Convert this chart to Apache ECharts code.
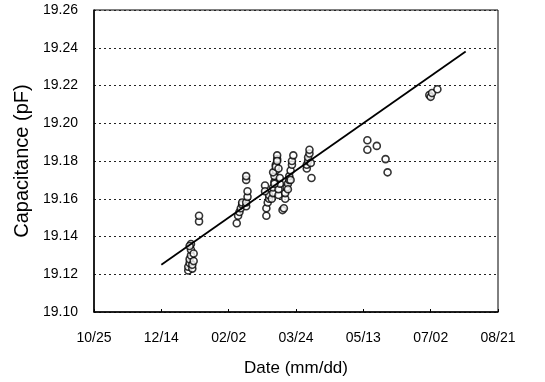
<!DOCTYPE html>
<html>
<head>
<meta charset="utf-8">
<script src="https://cdn.jsdelivr.net/npm/echarts@6/dist/echarts.min.js"></script>
<style>
  html, body { margin: 0; padding: 0; background: #fff; }
  #chart { width: 545px; height: 382px; }
</style>
</head>
<body>
<div id="chart"></div>
<script>
// x values are days counted from 10/25
const dateTicks = ['10/25', '12/14', '02/02', '03/24', '05/13', '07/02', '08/21']

const measDays = [
  70, 70, 71, 71, 72, 72, 72, 73, 73, 74, 74, 71,
  78, 78,
  106, 107, 108, 109, 110, 110, 113, 113, 114, 114, 113, 113,
  127, 128, 128, 129, 130, 130, 127,
  132, 133, 133, 134, 134, 135, 135, 136, 136, 137, 137, 138, 138, 133, 135, 136, 134, 137,
  140, 141, 142, 142, 143, 144, 145, 145, 146, 147, 147, 148, 144, 146,
  158, 158, 159, 159, 160, 160, 161, 161.5,
  203, 203, 210, 216.5, 218,
  249, 250, 251, 255
]
const measValues = [
  19.122, 19.124, 19.126, 19.128, 19.130, 19.133, 19.136, 19.123, 19.125, 19.127, 19.131, 19.135,
  19.148, 19.151,
  19.147, 19.151, 19.153, 19.155, 19.157, 19.158, 19.156, 19.158, 19.161, 19.164, 19.170, 19.172,
  19.167, 19.151, 19.155, 19.158, 19.160, 19.162, 19.164,
  19.160, 19.163, 19.166, 19.169, 19.172, 19.175, 19.178, 19.181, 19.183, 19.162, 19.165, 19.168, 19.171, 19.174, 19.177, 19.180, 19.168, 19.176,
  19.154, 19.155, 19.160, 19.163, 19.166, 19.168, 19.170, 19.172, 19.175, 19.178, 19.180, 19.183, 19.165, 19.170,
  19.176, 19.178, 19.180, 19.182, 19.184, 19.186, 19.179, 19.171,
  19.186, 19.191, 19.188, 19.181, 19.174,
  19.215, 19.214, 19.216, 19.218
]

const fitDays = [50, 276]
const fitValues = [19.125, 19.238]

const chart = echarts.init(document.getElementById('chart'))

const font = '"Liberation Sans", Arial, sans-serif'

const option = {
  animation: false,
  grid: {
    left: 94,
    right: 47,
    top: 10,
    bottom: 69,
    show: true,
    borderColor: '#000',
    borderWidth: 1,
  },
  xAxis: {
    type: 'value',
    min: 0,
    max: 300,
    interval: 50,
    name: 'Date (mm/dd)',
    nameLocation: 'middle',
    nameGap: 48,
    nameTextStyle: { fontFamily: font, fontSize: 17, color: '#000' },
    axisLine: { lineStyle: { color: '#000', width: 1.5 } },
    axisTick: { inside: true, length: 3, lineStyle: { color: '#000' } },
    axisLabel: {
      fontFamily: font,
      fontSize: 14,
      color: '#000',
      margin: 19,
      formatter: (v) => dateTicks[Math.round(v / 50)] || '',
    },
    splitLine: { show: false },
  },
  yAxis: {
    type: 'value',
    min: 19.10,
    max: 19.26,
    interval: 0.02,
    name: 'Capacitance (pF)',
    nameLocation: 'middle',
    nameGap: 62,
    nameTextStyle: { fontFamily: font, fontSize: 20, color: '#000', padding: [0, 0, 0, 0] },
    axisLine: { show: true, lineStyle: { color: '#000', width: 1.5 } },
    axisTick: { show: false },
    axisLabel: {
      fontFamily: font,
      fontSize: 14,
      color: '#000',
      margin: 16,
      formatter: (v) => v.toFixed(2),
    },
    splitLine: {
      show: true,
      lineStyle: { color: '#222', type: [2, 3], width: 1 },
    },
  },
  series: [
    {
      name: 'measured',
      type: 'scatter',
      symbol: 'circle',
      symbolSize: 7,
      itemStyle: { color: '#fff', borderColor: '#000', borderWidth: 1.6 },
      data: measDays.map((d, i) => [d, measValues[i]]),
      z: 3,
    },
    {
      name: 'fit',
      type: 'line',
      symbol: 'none',
      lineStyle: { color: '#000', width: 1.8 },
      data: fitDays.map((d, i) => [d, fitValues[i]]),
      z: 4,
    },
  ],
}

chart.setOption(option)
</script>
</body>
</html>
